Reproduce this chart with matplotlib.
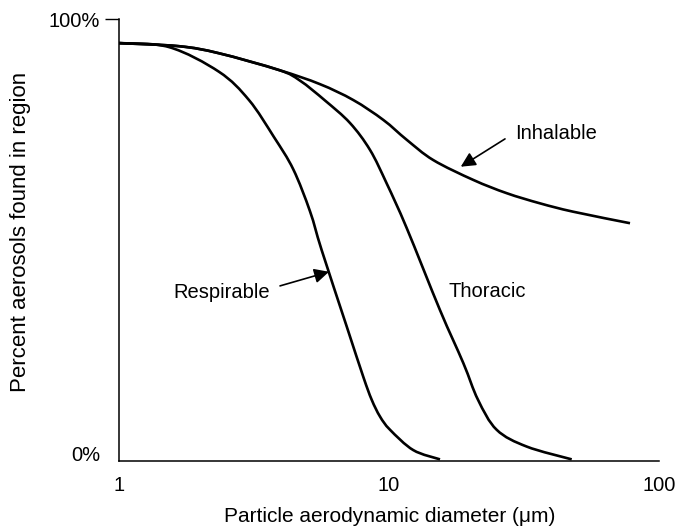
import numpy as np
import matplotlib
matplotlib.use("Agg")
import matplotlib.pyplot as plt
import matplotlib.transforms as mtransforms
from matplotlib.path import Path
from matplotlib.patches import PathPatch

plt.rcParams['font.family'] = ['Liberation Sans', 'DejaVu Sans']

# Particle aerodynamic diameter (um) and percent of aerosols in region
inhal_x = [1.0, 1.668, 2.347, 3.914, 5.551, 7.375, 9.526, 11.63, 14.59,
           20.53, 27.29, 36.25, 48.15, 78.08]
inhal_y = [94.6, 93.9, 92.3, 88.5, 85.3, 81.7, 77.2, 72.7, 68.1,
           63.6, 60.6, 58.3, 56.4, 53.8]

thor_x = [1.0, 1.668, 2.347, 3.914, 4.682, 5.794, 7.171, 8.505, 9.806, 11.63,
          15.45, 18.85, 21.36, 25.05, 32.36, 47.50]
thor_y = [94.6, 93.9, 92.3, 88.5, 86.1, 81.6, 76.5, 70.4, 62.8, 52.7,
          34.1, 22.1, 13.8, 7.0, 3.2, 0.3]

resp_x = [1.0, 1.532, 2.347, 3.030, 3.751, 4.421, 5.098, 5.632, 6.973, 8.031,
          8.629, 9.262, 10.09, 12.30, 15.45]
resp_y = [94.6, 93.7, 88.1, 81.7, 73.3, 66.0, 56.5, 47.7, 30.4, 19.0,
          13.8, 10.0, 7.0, 2.4, 0.3]

x_ticks = [1, 10, 100]
x_ticklabels = ['1', '10', '100']
y_ticks = [0, 100]
y_ticklabels = ['0%', '100%']


def smooth_path(xs, ys):
    """Bezier path through the read points (Catmull-Rom handles in log-x space)."""
    lx = np.log10(np.asarray(xs, float))
    yv = np.asarray(ys, float)
    px = np.column_stack([lx, yv])
    n = len(px)
    verts = [px[0]]
    codes = [Path.MOVETO]
    for i in range(n - 1):
        p0 = px[i - 1] if i > 0 else px[i]
        p1 = px[i]
        p2 = px[i + 1]
        p3 = px[i + 2] if i + 2 < n else px[i + 1]
        c1 = p1 + (p2 - p0) / 6.0
        c2 = p2 - (p3 - p1) / 6.0
        verts += [c1, c2, p2]
        codes += [Path.CURVE4] * 3
    verts = np.array(verts)
    verts[:, 0] = 10 ** verts[:, 0]
    return Path(verts, codes)


fig = plt.figure(figsize=(6.83, 5.31), dpi=100)
ax = fig.add_axes([0.1742, 0.1324, 0.7907, 0.8313])

ax.set_xscale('log')
ax.set_xlim(1, 100)
ax.set_ylim(0, 100)

lw = 1.9
for xs, ys in [(inhal_x, inhal_y), (thor_x, thor_y), (resp_x, resp_y)]:
    patch = PathPatch(smooth_path(xs, ys), facecolor='none', edgecolor='black',
                      lw=lw, capstyle='butt', joinstyle='round')
    ax.add_patch(patch)

ax.set_xticks(x_ticks, labels=x_ticklabels)
ax.xaxis.set_minor_locator(matplotlib.ticker.NullLocator())
ax.set_yticks(y_ticks, labels=y_ticklabels)
ax.yaxis.remove_overlapping_locs = False
ax.set_yticks([100], minor=True)
ax.tick_params(axis='x', which='major', length=0, pad=11, labelsize=14.5)
ax.tick_params(axis='y', which='major', length=0, pad=13.5, labelsize=14.5)
ax.tick_params(axis='y', which='minor', length=10, width=1.0, color='black')

# nudge the 0% label slightly upward as in the reference
offset = mtransforms.ScaledTranslation(0, 7 / 100, fig.dpi_scale_trans)
for tick in ax.yaxis.get_major_ticks():
    if tick.label1.get_text() == '0%':
        tick.label1.set_transform(tick.label1.get_transform() + offset)

for s in ['top', 'right']:
    ax.spines[s].set_visible(False)
for s in ['left', 'bottom']:
    ax.spines[s].set_linewidth(1.1)

ax.set_xlabel('Particle aerodynamic diameter (\u03bcm)', fontsize=15)
ax.xaxis.set_label_coords(0.502, -0.1275)
ax.xaxis.label.set_va('center')
ax.set_ylabel('Percent aerosols found in region', fontsize=16)
ax.yaxis.set_label_coords(-0.1815, 0.519)
ax.yaxis.label.set_va('center')

arrow = dict(arrowstyle='-|>', color='black', lw=1.2, mutation_scale=22,
             shrinkA=0, shrinkB=0)
ax.annotate('', xy=(18.44, 66.6), xytext=(26.89, 72.9), arrowprops=arrow)
ax.text(29.29, 74.2, 'Inhalable', fontsize=14.5, ha='left', va='center')

ax.annotate('', xy=(5.995, 42.8), xytext=(3.948, 39.6), arrowprops=arrow)
ax.text(3.625, 38.2, 'Respirable', fontsize=14.5, ha='right', va='center')

ax.text(16.58, 38.3, 'Thoracic', fontsize=14.5, ha='left', va='center')

fig.savefig('out.png', dpi=100)
